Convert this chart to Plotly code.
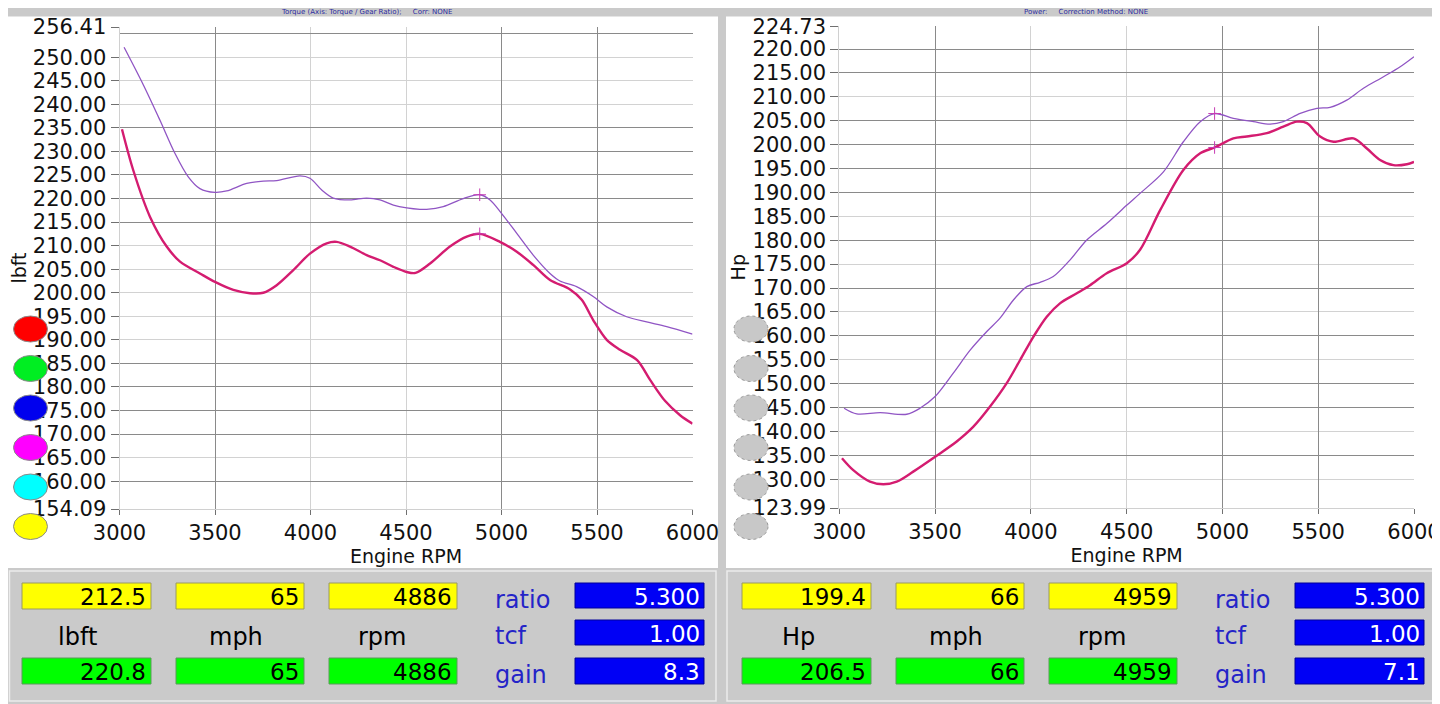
import plotly.graph_objects as go

W, H = 1440, 704

# ---------------- data ----------------
rpm_tq_low = [3013, 3072, 3160, 3247, 3317, 3421, 3500, 3596, 3683, 3753, 3823, 3910, 3997,
              4085, 4137, 4207, 4294, 4364, 4434, 4504, 4550, 4626, 4730, 4818, 4886, 4992,
              5080, 5166, 5254, 5359, 5420, 5480, 5551, 5620, 5710, 5778, 5857, 5935, 6000]
tq_low = [234.7, 226.0, 216.1, 209.8, 206.6, 204.1, 202.3, 200.6, 199.9, 200.0, 201.6, 204.8, 208.3,
          210.5, 210.8, 209.8, 208.0, 206.9, 205.5, 204.4, 204.2, 206.2, 209.8, 211.9, 212.5, 210.8,
          208.7, 205.9, 202.7, 200.7, 198.5, 194.2, 190.0, 187.9, 185.7, 181.5, 177.0, 174.0, 172.2]

rpm_tq_high = [3024, 3125, 3212, 3290, 3360, 3421, 3500, 3561, 3666, 3753, 3823, 3945, 3997,
               4059, 4119, 4207, 4294, 4364, 4434, 4504, 4573, 4608, 4695, 4800, 4886, 4940,
               5001, 5080, 5166, 5254, 5306, 5393, 5480, 5551, 5655, 5760, 5865, 6000]
tq_high = [252.1, 244.1, 236.6, 229.6, 224.6, 222.1, 221.3, 221.6, 223.2, 223.7, 223.8, 224.8, 224.3,
           221.8, 220.1, 219.7, 220.1, 219.7, 218.6, 218.0, 217.7, 217.7, 218.3, 220.0, 220.8, 219.7,
           216.8, 212.6, 208.0, 204.1, 202.5, 201.3, 199.2, 197.0, 194.9, 193.8, 192.8, 191.2]

rpm_hp_low = [3014, 3073, 3160, 3230, 3300, 3386, 3500, 3613, 3700, 3787, 3874, 3944, 4013,
              4083, 4152, 4240, 4309, 4396, 4501, 4570, 4675, 4796, 4884, 4959, 5057, 5127,
              5232, 5318, 5388, 5441, 5510, 5580, 5684, 5754, 5823, 5893, 5963, 6000]
hp_low = [134.4, 131.9, 129.5, 128.95, 129.5, 131.6, 134.7, 137.9, 141.0, 145.2, 150.1, 154.95, 159.8,
          164.0, 166.8, 168.9, 170.6, 173.1, 175.2, 178.0, 186.3, 194.7, 198.2, 199.4, 201.3, 201.7,
          202.4, 203.75, 204.8, 204.5, 201.7, 200.6, 201.3, 199.2, 196.8, 195.7, 195.9, 196.4]

rpm_hp_high = [3025, 3091, 3213, 3352, 3421, 3500, 3595, 3683, 3770, 3839, 3909, 3979, 4048,
               4117, 4205, 4292, 4396, 4500, 4570, 4692, 4796, 4884, 4959, 5057, 5162, 5249,
               5318, 5406, 5493, 5562, 5649, 5736, 5841, 5928, 6000]
hp_high = [144.85, 143.66, 143.93, 143.6, 144.85, 147.3, 152.2, 157.0, 160.9, 163.7, 167.5, 170.3, 171.2,
           172.4, 175.9, 180.05, 183.5, 187.3, 189.8, 194.3, 200.6, 204.8, 206.5, 205.5, 204.8, 204.3,
           204.8, 206.55, 207.6, 207.8, 209.3, 211.8, 214.2, 216.3, 218.4]

# cursor read-outs
tq_cursor_rpm = 4886
tq_cursor_vals = [212.5, 220.8]
tq_cursor_mph = [65, 65]
hp_cursor_rpm = 4959
hp_cursor_vals = [199.4, 206.5]
hp_cursor_mph = [66, 66]
tq_blue = ["5.300", "1.00", "8.3"]
hp_blue = ["5.300", "1.00", "7.1"]
blue_labels = ["ratio", "tcf", "gain"]

# axes ticks
x_ticks = [3000, 3500, 4000, 4500, 5000, 5500, 6000]
tq_ticks = [154.09, 160, 165, 170, 175, 180, 185, 190, 195, 200, 205, 210, 215, 220, 225,
            230, 235, 240, 245, 250, 256.41]
hp_ticks = [123.99, 130, 135, 140, 145, 150, 155, 160, 165, 170, 175, 180, 185, 190, 195,
            200, 205, 210, 215, 220, 224.73]
x_dark = [3500, 5000, 5500]
tq_dark = [255, 235, 230, 225, 220, 215, 185, 180, 175, 170, 160]
hp_dark = [220, 215, 205, 200, 195, 190, 180, 170, 160, 150, 145, 135]

# ---------------- styling ----------------
UPPER = "#9055c4"
LOWER = "#d41c70"
LIGHT = "#d2d2d2"
DARK = "#8a8a8a"
BG = "#cacaca"
FONT = "DejaVu Sans"
OFF = 8  # page body margin of the browser


def px(x):
    return (x - OFF) / W


def py(y):
    return 1 - (y - OFF) / H


fig = go.Figure()

for xa, ya, rx_hi, y_hi, rx_lo, y_lo in [
    ("x", "y", rpm_tq_high, tq_high, rpm_tq_low, tq_low),
    ("x2", "y2", rpm_hp_high, hp_high, rpm_hp_low, hp_low),
]:
    fig.add_trace(go.Scatter(x=rx_hi, y=y_hi, mode="lines", xaxis=xa, yaxis=ya,
                             line=dict(color=UPPER, width=1.3, shape="spline", smoothing=0.9),
                             showlegend=False, hoverinfo="skip"))
    fig.add_trace(go.Scatter(x=rx_lo, y=y_lo, mode="lines", xaxis=xa, yaxis=ya,
                             line=dict(color=LOWER, width=2.4, shape="spline", smoothing=0.9),
                             showlegend=False, hoverinfo="skip"))

# cursor markers
fig.add_trace(go.Scatter(x=[tq_cursor_rpm] * 2, y=tq_cursor_vals, mode="markers", xaxis="x", yaxis="y",
                         marker=dict(symbol="cross-thin", size=9, line=dict(color="#c83cb4", width=1)),
                         showlegend=False, hoverinfo="skip"))
fig.add_trace(go.Scatter(x=[hp_cursor_rpm] * 2, y=hp_cursor_vals, mode="markers", xaxis="x2", yaxis="y2",
                         marker=dict(symbol="cross-thin", size=9, line=dict(color="#c83cb4", width=1)),
                         showlegend=False, hoverinfo="skip"))

# dummy traces on overlay grid axes
fig.add_trace(go.Scatter(x=[None], y=[None], xaxis="x3", yaxis="y3", showlegend=False, hoverinfo="skip"))
fig.add_trace(go.Scatter(x=[None], y=[None], xaxis="x4", yaxis="y4", showlegend=False, hoverinfo="skip"))

tickfont = dict(family=FONT, size=21, color="#111111")


def fmt(v):
    return f"{v:.2f}"


def xaxis_main(dom, anchor):
    return dict(domain=dom, range=[3000, 6000], anchor=anchor, tickmode="array",
                tickvals=x_ticks, ticktext=[str(v) for v in x_ticks],
                showgrid=True, gridcolor=LIGHT, gridwidth=1, zeroline=False,
                ticks="outside", ticklen=5, tickcolor="#707070", tickwidth=1,
                showline=True, linecolor="#d0d0d0", linewidth=1,
                tickfont=tickfont, automargin=False,
                title=dict(text="Engine RPM", font=dict(family=FONT, size=19, color="#111111"), standoff=1),
                fixedrange=True)


def yaxis_main(dom, anchor, rng, ticks, title):
    return dict(domain=dom, range=rng, anchor=anchor, tickmode="array",
                tickvals=ticks, ticktext=[fmt(v) for v in ticks],
                showgrid=True, gridcolor=LIGHT, gridwidth=1, zeroline=False,
                ticks="outside", ticklen=8, tickcolor="#707070", tickwidth=1,
                showline=True, linecolor="#d0d0d0", linewidth=1,
                tickfont=tickfont, automargin=False,
                title=dict(text=title, font=dict(family=FONT, size=19, color="#111111"), standoff=1),
                fixedrange=True)


def overlay_x(over, anchor):
    return dict(overlaying=over, anchor=anchor, range=[3000, 6000], tickmode="array", tickvals=x_dark,
                showticklabels=False, ticks="", showgrid=True, gridcolor=DARK, gridwidth=1,
                showline=False, zeroline=False, fixedrange=True, automargin=False)


def overlay_y(over, anchor, rng, vals):
    return dict(overlaying=over, anchor=anchor, range=rng, tickmode="array", tickvals=vals,
                showticklabels=False, ticks="", showgrid=True, gridcolor=DARK, gridwidth=1,
                showline=False, zeroline=False, fixedrange=True, automargin=False)


lx = [px(119.5), px(692.5)]
ly = [py(509), py(27)]
rx = [px(839.3), px(1414)]
ry = [py(508), py(26.4)]

shapes = []


def rect(x0, y0, x1, y1, fill, line=None, lw=0, layer="below"):
    return dict(type="rect", xref="paper", yref="paper", x0=px(x0), x1=px(x1), y0=py(y1), y1=py(y0),
                fillcolor=fill, line=dict(color=line if line else fill, width=lw), layer=layer)


# background panels
shapes.append(rect(8, 16.5, 718, 568, "white"))
shapes.append(rect(726, 16.5, 1448, 568, "white"))
# bottom panel frames
shapes.append(rect(9.5, 571, 716, 701, "rgba(0,0,0,0)", "#ececec", 1.5, "above"))
shapes.append(rect(727, 571, 1436, 701, "rgba(0,0,0,0)", "#ececec", 1.5, "above"))

# legend-like ellipses
ell_y = [329, 368.5, 408, 447.5, 487, 526.5]
left_cols = ["#ff0000", "#00ee22", "#0000ee", "#ff00ff", "#00ffff", "#ffff00"]
for yc, c in zip(ell_y, left_cols):
    shapes.append(dict(type="circle", xref="paper", yref="paper", x0=px(13.5), x1=px(47.5),
                       y0=py(yc + 13), y1=py(yc - 13), fillcolor=c,
                       line=dict(color="#8a8a8a", width=1), layer="above"))
    shapes.append(dict(type="circle", xref="paper", yref="paper", x0=px(734), x1=px(768),
                       y0=py(yc + 13), y1=py(yc - 13), fillcolor="#c8c8c8",
                       line=dict(color="#9a9a9a", width=1, dash="dot"), layer="above"))

annotations = []


def text(x, y, s, size=22, color="#000000", anchor="center"):
    annotations.append(dict(x=px(x), y=py(y), xref="paper", yref="paper", text=s, showarrow=False,
                            xanchor=anchor, yanchor="middle",
                            font=dict(family=FONT, size=size, color=color)))


box_x = [(22, 151), (176, 304), (329, 457)]
blue_x = (575, 704)
blue_y = [(583, 608), (620, 645), (658, 684)]


def panel(off, vals, mph, rpm, unit, blue_vals, unit_x):
    top = [f"{vals[0]:.1f}", str(mph[0]), str(rpm)]
    bot = [f"{vals[1]:.1f}", str(mph[1]), str(rpm)]
    for (x0, x1), t, b in zip(box_x, top, bot):
        shapes.append(rect(x0 + off, 583, x1 + off, 609, "#ffff00", "#9a9a60", 1, "above"))
        shapes.append(rect(x0 + off, 658, x1 + off, 684, "#00ff00", "#5a9a5a", 1, "above"))
        text(x1 + off - 3, 597, t, 23, "#000000", "right")
        text(x1 + off - 3, 672, b, 23, "#000000", "right")
    for lab, xc in zip([unit, "mph", "rpm"], [unit_x, 236, 382]):
        text(xc + off, 637, lab, 24, "#000000")
    for (y0, y1), v, lab, ly_ in zip(blue_y, blue_vals, blue_labels, [600, 636, 675]):
        shapes.append(rect(blue_x[0] + off, y0, blue_x[1] + off, y1, "#0000f5", "#00009a", 1, "above"))
        text(blue_x[1] + off - 2, (y0 + y1) / 2 + 1, v, 23, "#ffffff", "right")
        text(493 + off, ly_, lab, 24, "#2424c8", "left")


panel(0, tq_cursor_vals, tq_cursor_mph, tq_cursor_rpm, "lbft", tq_blue, 77)
panel(720, hp_cursor_vals, hp_cursor_mph, hp_cursor_rpm, "Hp", hp_blue, 78)

# tiny header captions
text(366, 12.5, "Torque (Axis: Torque / Gear Ratio);&nbsp;&nbsp;&nbsp;&nbsp; Corr: NONE", 7, "#2a2aa0")
text(1086, 12.5, "Power:&nbsp;&nbsp;&nbsp;&nbsp; Correction Method: NONE", 7, "#2a2aa0")

fig.update_layout(
    width=W, height=H,
    margin=dict(l=0, r=0, t=0, b=0, autoexpand=False),
    paper_bgcolor=BG, plot_bgcolor="white",
    showlegend=False,
    xaxis=xaxis_main(lx, "y"),
    yaxis=yaxis_main(ly, "x", [154.09, 256.41], tq_ticks, "lbft"),
    xaxis2=xaxis_main(rx, "y2"),
    yaxis2=yaxis_main(ry, "x2", [123.99, 224.73], hp_ticks, "Hp"),
    xaxis3=overlay_x("x", "y3"),
    yaxis3=overlay_y("y", "x3", [154.09, 256.41], tq_dark),
    xaxis4=overlay_x("x2", "y4"),
    yaxis4=overlay_y("y2", "x4", [123.99, 224.73], hp_dark),
    shapes=shapes,
    annotations=annotations,
)

fig.write_html("out.html")
